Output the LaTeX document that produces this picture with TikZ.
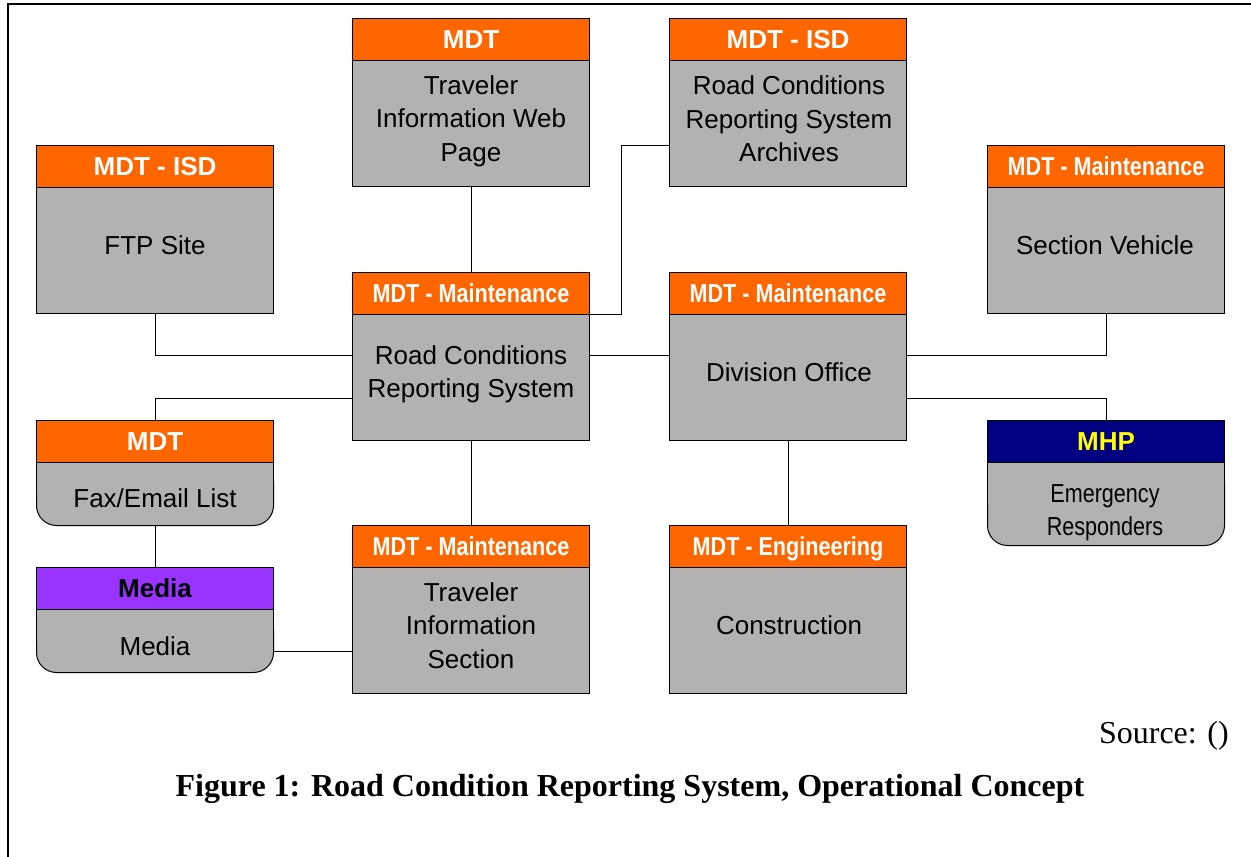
\documentclass[tikz,border=0pt]{standalone}
\usepackage{fontspec}
\setmainfont{Liberation Sans}
\newfontfamily\arl{Liberation Sans}
\newfontfamily\arlN[FakeStretch=0.83]{Liberation Sans}
\newfontfamily\tnr{Liberation Serif}
\usetikzlibrary{backgrounds}
\definecolor{orangeC}{RGB}{255,102,0}
\definecolor{grayC}{RGB}{178,178,178}
\definecolor{navyC}{RGB}{0,0,128}
\definecolor{purpleC}{RGB}{153,51,255}
\definecolor{yellowC}{RGB}{255,255,0}
\begin{document}
\begin{tikzpicture}[x=1pt,y=-1pt,
 hdr/.style={draw=black, line width=1pt, fill=orangeC, text=white, minimum width=237pt, minimum height=42pt, inner sep=0pt, anchor=north west, text height=18.7pt, text depth=0pt, font=\arl\bfseries\fontsize{26}{30}\selectfont},
 hdrN/.style={hdr, font=\arlN\bfseries\fontsize{26}{30}\selectfont},
 body/.style={draw=black, line width=1pt, fill=grayC, minimum width=237pt, minimum height=126pt, inner sep=0pt, anchor=north west},
 rbody/.style={body, draw=none, fill=none, outer sep=0pt},
 btxt/.style={align=center, inner sep=0pt, font=\arl\fontsize{26}{33.5}\selectfont},
 btxt1/.style={btxt, text height=18.7pt, text depth=0pt},
 btxtN/.style={btxt, font=\arlN\fontsize{26}{33}\selectfont},
 link/.style={draw=black, line width=1pt},
 frame/.style={draw=black, line width=2pt},
]
\useasboundingbox (0,0) rectangle (1251,857);
\draw[frame] (8,857) -- (8,4) -- (1251,4);

% FTP Site
\node[body] (ftp) at (36,187) {};
\node[hdr] (ftph) at (36,145) {MDT - ISD};
\node[btxt1] (ftpt) at (155,245) {FTP Site};

% Traveler Information Web Page
\node[body] (web) at (352,60) {};
\node[hdr] (webh) at (352,18) {MDT};
\node[btxt] (webt) at (471,121) {Traveler\\Information Web\\Page};

% Archives
\node[body] (arch) at (669,60) {};
\node[hdr] (archh) at (669,18) {MDT - ISD};
\node[btxt] (archt) at (789,119) {Road Conditions\\Reporting System\\Archives};

% Section Vehicle
\node[body] (sv) at (987,187) {};
\node[hdrN] (svh) at (987,145) {MDT - Maintenance};
\node[btxt1] (svt) at (1105,245) {Section Vehicle};

% Road Conditions Reporting System
\node[body] (rcrs) at (352,314) {};
\node[hdrN] (rcrsh) at (352,272) {MDT - Maintenance};
\node[btxt] (rcrst) at (471,374.5) {Road Conditions\\Reporting System};

% Division Office
\node[body] (div) at (669,314) {};
\node[hdrN] (divh) at (669,272) {MDT - Maintenance};
\node[btxt1] (divt) at (789,372) {Division Office};

% Fax/Email List (rounded bottom)
\node[rbody, minimum height=63pt] (fax) at (36.5,462.5) {};
\node[hdr] (faxh) at (36,420) {MDT};
\node[btxt1] (faxt) at (155,498) {Fax/Email List};

% MHP Emergency Responders (rounded bottom)
\node[rbody, minimum height=83pt] (mhp) at (987.5,462.5) {};
\node[hdr, fill=navyC, text=yellowC] (mhph) at (987,420) {MHP};
\node[btxtN] (mhpt) at (1105,513) {Emergency\\Responders};

% Media (rounded bottom)
\node[rbody, minimum height=63pt] (media) at (36.5,609.5) {};
\node[hdr, fill=purpleC, text=black] (mediah) at (36,567) {Media};
\node[btxt1] (mediat) at (155,646) {Media};

% Traveler Information Section
\node[body] (tis) at (352,567) {};
\node[hdrN] (tish) at (352,525) {MDT - Maintenance};
\node[btxt] (tist) at (471,625.5) {Traveler\\Information\\Section};

% Construction
\node[body] (con) at (669,567) {};
\node[hdrN] (conh) at (669,525) {MDT - Engineering};
\node[btxt1] (cont) at (789,625) {Construction};

% rounded bodies
\begin{scope}[on background layer]
\foreach \n in {fax,mhp,media}{
  \path[fill=grayC, draw=black, line width=1pt, rounded corners=20pt] (\n.north west) rectangle (\n.south east);
  \fill[grayC] (\n.north west) rectangle (\n.east);
  \draw[line width=1pt] (\n.west) -- (\n.north west) -- (\n.north east) -- (\n.east);
}
\end{scope}

% connectors
\draw[link] (ftp.south) |- ([yshift=22pt]rcrs.west);
\draw[link] (web.south) -- (rcrsh.north);
\draw[link] (rcrs.north east) -- ++(31,0) |- ([yshift=-22pt]arch.west);
\draw[link] ([yshift=22pt]rcrs.east) -- ([yshift=22pt]div.west);
\draw[link] ([yshift=22pt]div.east) -| (sv.south);
\draw[link] ([yshift=-21pt]div.east) -| (mhph.north);
\draw[link] ([yshift=-21pt]rcrs.west) -| (faxh.north);
\draw[link] (fax.south) -- (mediah.north);
\draw[link] ([yshift=-10.5pt]media.east) -- ([yshift=-10.5pt]media.east -| tis.west);
\draw[link] (rcrs.south) -- (tish.north);
\draw[link] (div.south) -- (conh.north);

% caption
\node[anchor=east, inner sep=0pt, font=\tnr\fontsize{32}{36}\selectfont] (src) at (1229,736) {Source: ()};
\node[inner sep=0pt, font=\tnr\bfseries\fontsize{32}{36}\selectfont] (cap) at (630,789) {Figure 1: Road Condition Reporting System, Operational Concept};
\end{tikzpicture}
\end{document}
